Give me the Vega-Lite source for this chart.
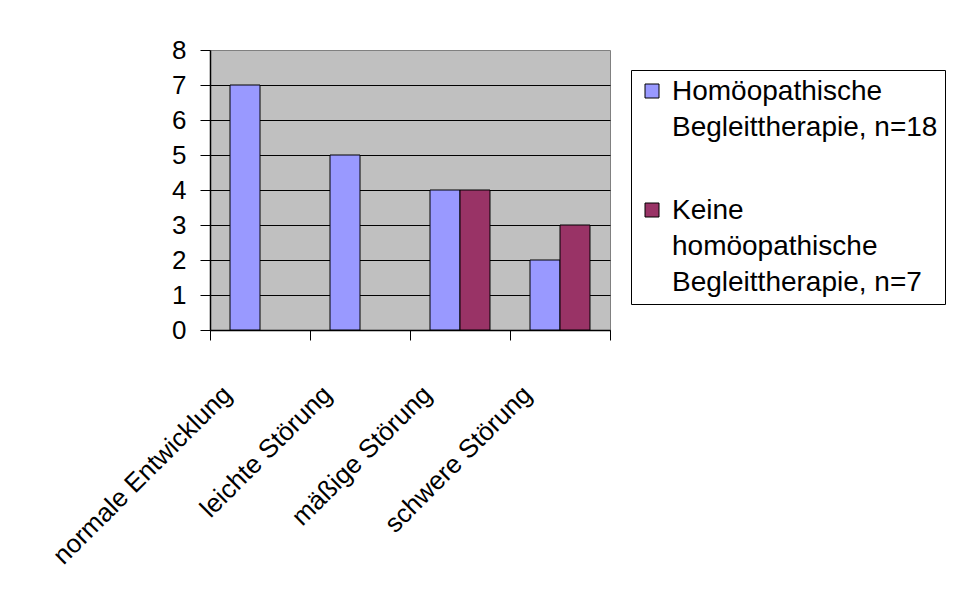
{
  "$schema": "https://vega.github.io/schema/vega-lite/v6.json",
  "autosize": "none",
  "width": 400,
  "height": 280,
  "padding": {"left": 210, "top": 50, "right": 351, "bottom": 266},
  "background": "white",
  "config": {
    "view": {"fill": "#C0C0C0", "stroke": "#808080", "strokeWidth": 1},
    "font": "Liberation Sans"
  },
  "data": {
    "values": [
      {"kategorie": "normale Entwicklung", "gruppe": "Homöopathische Begleittherapie, n=18", "anzahl": 7},
      {"kategorie": "leichte Störung", "gruppe": "Homöopathische Begleittherapie, n=18", "anzahl": 5},
      {"kategorie": "mäßige Störung", "gruppe": "Homöopathische Begleittherapie, n=18", "anzahl": 4},
      {"kategorie": "mäßige Störung", "gruppe": "Keine homöopathische Begleittherapie, n=7", "anzahl": 4},
      {"kategorie": "schwere Störung", "gruppe": "Homöopathische Begleittherapie, n=18", "anzahl": 2},
      {"kategorie": "schwere Störung", "gruppe": "Keine homöopathische Begleittherapie, n=7", "anzahl": 3}
    ]
  },
  "mark": {"type": "bar", "stroke": "black", "strokeWidth": 1},
  "encoding": {
    "x": {
      "field": "kategorie",
      "type": "nominal",
      "sort": ["normale Entwicklung", "leichte Störung", "mäßige Störung", "schwere Störung"],
      "scale": {"paddingInner": 0, "paddingOuter": 0},
      "axis": {
        "title": null,
        "tickBand": "extent",
        "tickColor": "black",
        "tickSize": 10,
        "domainColor": "black",
        "domainWidth": 1.5,
        "labelAngle": -45,
        "labelAlign": "right",
        "labelBaseline": "middle",
        "labelFontSize": 26,
        "labelColor": "black",
        "labelOffset": -33,
        "labelPadding": 50,
        "labelLimit": 400,
        "grid": false
      }
    },
    "xOffset": {
      "field": "gruppe",
      "type": "nominal",
      "sort": ["Homöopathische Begleittherapie, n=18", "Keine homöopathische Begleittherapie, n=7"],
      "scale": {"paddingInner": 0, "paddingOuter": 0.6667}
    },
    "y": {
      "field": "anzahl",
      "type": "quantitative",
      "scale": {"domain": [0, 8], "nice": false},
      "axis": {
        "title": null,
        "values": [0, 1, 2, 3, 4, 5, 6, 7, 8],
        "grid": true,
        "gridColor": {"condition": {"test": "datum.value == 8", "value": "transparent"}, "value": "black"},
        "gridWidth": 1,
        "domainColor": "black",
        "domainWidth": 1.5,
        "tickColor": "black",
        "tickSize": 10,
        "labelFontSize": 26,
        "labelColor": "black",
        "labelPadding": 14
      }
    },
    "color": {
      "field": "gruppe",
      "type": "nominal",
      "scale": {
        "domain": ["Homöopathische Begleittherapie, n=18", "Keine homöopathische Begleittherapie, n=7"],
        "range": ["#9999FF", "#993366"]
      },
      "legend": {
        "title": null,
        "orient": "none",
        "legendX": 421,
        "legendY": 20,
        "fillColor": "white",
        "strokeColor": "black",
        "padding": 7,
        "symbolType": "square",
        "symbolSize": 196,
        "symbolStrokeColor": "black",
        "symbolStrokeWidth": 1,
        "symbolOpacity": 1,
        "labelFontSize": 28,
        "labelColor": "black",
        "labelLimit": 400,
        "labelOffset": 6,
        "labelBaseline": "top",
        "rowPadding": 54,
        "labelExpr": "datum.label[0] == 'H' ? ['Homöopathische', 'Begleittherapie, n=18'] : ['Keine', 'homöopathische', 'Begleittherapie, n=7']",
        "encode": {
          "labels": {"update": {"lineHeight": {"value": 36}, "dy": {"value": -13}}}
        }
      }
    }
  }
}
